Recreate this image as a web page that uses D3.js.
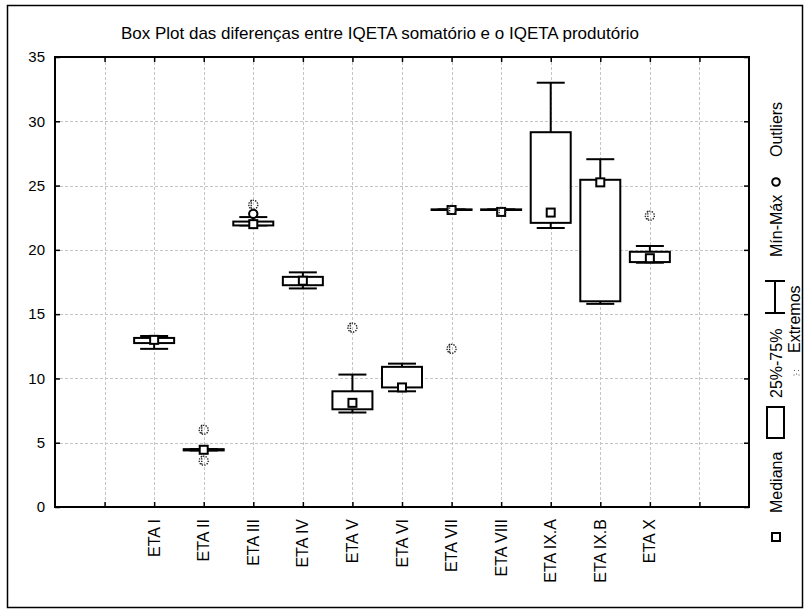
<!DOCTYPE html>
<html>
<head>
<meta charset="utf-8">
<script src="https://cdn.jsdelivr.net/npm/d3@7"></script>
<style>
  html, body { margin: 0; padding: 0; background: #fff; }
  svg { display: block; font-family: "Liberation Sans", Arial, sans-serif; }
</style>
</head>
<body>
<script>
// Box plot data per ETA (differences between summed and multiplied IQETA)
const categories = ["ETA I", "ETA II", "ETA III", "ETA IV", "ETA V", "ETA VI",
                    "ETA VII", "ETA VIII", "ETA IX.A", "ETA IX.B", "ETA X"];
const medians = [13.0, 4.45, 22.0, 17.6, 8.1, 9.3, 23.1, 22.95, 22.9, 25.25, 19.35];
const q1      = [12.75, 4.4, 21.9, 17.25, 7.6, 9.3, 23.1, 23.1, 22.1, 16.0, 19.05];
const q3      = [13.15, 4.5, 22.2, 17.9, 9.0, 10.9, 23.15, 23.15, 29.15, 25.45, 19.85];
const mins    = [12.3, 4.4, 21.9, 17.0, 7.35, 9.0, 23.1, 23.1, 21.7, 15.8, 19.0];
const maxs    = [13.3, 4.5, 22.55, 18.25, 10.3, 11.15, 23.15, 23.15, 33.0, 27.05, 20.3];
const outliers = [[], [], [22.8], [], [], [], [], [], [], [], []];
const extremes = [[], [6.0, 3.6], [23.5], [], [13.95], [], [23.1, 12.3], [22.95], [], [], [22.65]];
const yTicks = [0, 5, 10, 15, 20, 25, 30, 35];
const title = "Box Plot das diferenças entre IQETA somatório e o IQETA produtório";
const legendItems = ["Mediana", "25%-75%", "Mín-Máx", "Outliers", "Extremos"];

const W = 809, H = 614;
const svg = d3.select("body").append("svg").attr("width", W).attr("height", H);

// outer frame
svg.append("rect").attr("x", 7.5).attr("y", 5.5).attr("width", 795).attr("height", 602)
  .attr("fill", "none").attr("stroke", "#000").attr("stroke-width", 1.5);

// slots: categories sit at positions 2..12 of a 0..14 axis
const x = d3.scaleLinear().domain([0, 14]).range([55, 749]);
const y = d3.scaleLinear().domain([0, 35]).range([507, 57]);
const slotTicks = d3.range(1, 14);

// grid
const grid = svg.append("g").attr("stroke", "#c4c4c4").attr("stroke-width", 1)
  .attr("stroke-dasharray", "3,2");
grid.selectAll("line.v").data(slotTicks).join("line").attr("class", "v")
  .attr("x1", d => Math.round(x(d)) + 0.5).attr("x2", d => Math.round(x(d)) + 0.5)
  .attr("y1", y(35)).attr("y2", y(0));
grid.selectAll("line.h").data(yTicks.slice(1, -1)).join("line").attr("class", "h")
  .attr("x1", x(0)).attr("x2", x(14))
  .attr("y1", d => Math.round(y(d)) + 0.5).attr("y2", d => Math.round(y(d)) + 0.5);

// axes with inward ticks on all four sides
const axFont = "15px";
const axLeft = svg.append("g").attr("transform", `translate(${x(0)},0)`)
  .call(d3.axisLeft(y).tickValues(yTicks).tickSizeInner(-5).tickSizeOuter(0).tickPadding(10));
const axRight = svg.append("g").attr("transform", `translate(${x(14)},0)`)
  .call(d3.axisRight(y).tickValues(yTicks).tickSizeInner(-5).tickSizeOuter(0).tickFormat(""));
const axBottom = svg.append("g").attr("transform", `translate(0,${y(0)})`)
  .call(d3.axisBottom(x).tickValues(slotTicks).tickSizeInner(-5).tickSizeOuter(0).tickFormat(""));
const axTop = svg.append("g").attr("transform", `translate(0,${y(35)})`)
  .call(d3.axisTop(x).tickValues(slotTicks).tickSizeInner(-5).tickSizeOuter(0).tickFormat(""));
[axLeft, axRight, axBottom, axTop].forEach(g => {
  g.select(".domain").remove();
  g.selectAll(".tick line").attr("stroke", "#000").attr("stroke-width", 1.5);
});
axLeft.selectAll(".tick text").attr("font-size", axFont).attr("fill", "#000")
  .attr("font-family", "Liberation Sans, Arial, sans-serif");

// plot frame
svg.append("rect").attr("x", x(0)).attr("y", y(35))
  .attr("width", x(14) - x(0)).attr("height", y(0) - y(35))
  .attr("fill", "none").attr("stroke", "#000").attr("stroke-width", 2);

// category labels (rotated)
const pos = i => x(i + 2);
svg.append("g").selectAll("text").data(categories).join("text")
  .attr("transform", (d, i) => `translate(${pos(i) + 5.5},${y(0) + 12}) rotate(-90)`)
  .attr("text-anchor", "end").attr("font-size", "16px").attr("fill", "#000")
  .text(d => d);

// title
svg.append("text").attr("x", 380).attr("y", 39).attr("text-anchor", "middle")
  .attr("font-size", "17px").attr("fill", "#000").text(title);

// boxes
const boxW = 40, capW = 28, medS = 8;
const boxes = svg.append("g").attr("stroke", "#000").attr("stroke-width", 2).attr("fill", "#fff");
categories.forEach((c, i) => {
  const cx = pos(i);
  const g = boxes.append("g");
  g.append("line").attr("x1", cx).attr("x2", cx).attr("y1", y(maxs[i])).attr("y2", y(q3[i]));
  g.append("line").attr("x1", cx).attr("x2", cx).attr("y1", y(q1[i])).attr("y2", y(mins[i]));
  g.append("line").attr("x1", cx - capW / 2).attr("x2", cx + capW / 2)
    .attr("y1", y(maxs[i])).attr("y2", y(maxs[i]));
  g.append("line").attr("x1", cx - capW / 2).attr("x2", cx + capW / 2)
    .attr("y1", y(mins[i])).attr("y2", y(mins[i]));
  g.append("rect").attr("x", cx - boxW / 2).attr("y", y(q3[i]))
    .attr("width", boxW).attr("height", Math.max(0.5, y(q1[i]) - y(q3[i])));
  g.append("rect").attr("x", cx - medS / 2).attr("y", y(medians[i]) - medS / 2)
    .attr("width", medS).attr("height", medS);
});

// outliers: circles
const outG = svg.append("g");
categories.forEach((c, i) => {
  outliers[i].forEach(v => {
    outG.append("circle").attr("cx", pos(i)).attr("cy", y(v)).attr("r", 4.2)
      .attr("fill", "#fff").attr("stroke", "#000").attr("stroke-width", 2);
  });
});

// extremes: dotted marker
function extreme(g, cx, cy, s) {
  const e = g.append("g").attr("fill", "none").attr("stroke", "#222")
    .attr("stroke-width", 1.4).attr("stroke-dasharray", "1.3,1.2");
  e.append("circle").attr("cx", cx).attr("cy", cy).attr("r", 4.5 * s);
  e.append("line").attr("x1", cx - 2 * s).attr("x2", cx - 2 * s)
    .attr("y1", cy - 5 * s).attr("y2", cy + 5 * s);
}
const exG = svg.append("g");
categories.forEach((c, i) => {
  extremes[i].forEach(v => extreme(exG, pos(i), y(v), 1));
});

// legend (rotated, reading upward)
const lg = svg.append("g").attr("font-size", "16px").attr("fill", "#000");
const lx = 776;
// median marker
lg.append("rect").attr("x", lx - 4).attr("y", 533).attr("width", 8).attr("height", 8)
  .attr("fill", "#fff").attr("stroke", "#000").attr("stroke-width", 2);
lg.append("text").attr("transform", `translate(${lx + 6},513) rotate(-90)`).text(legendItems[0]);
// box
lg.append("rect").attr("x", 767).attr("y", 407).attr("width", 17).attr("height", 31)
  .attr("fill", "#fff").attr("stroke", "#000").attr("stroke-width", 2);
lg.append("text").attr("transform", `translate(${lx + 6},398) rotate(-90)`).text(legendItems[1]);
// whisker
const wk = lg.append("g").attr("stroke", "#000").attr("stroke-width", 2);
wk.append("line").attr("x1", 765).attr("x2", 785).attr("y1", 281).attr("y2", 281);
wk.append("line").attr("x1", 765).attr("x2", 785).attr("y1", 313).attr("y2", 313);
wk.append("line").attr("x1", 775).attr("x2", 775).attr("y1", 281).attr("y2", 313);
lg.append("text").attr("transform", `translate(${lx + 6},257) rotate(-90)`).text(legendItems[2]);
// outlier
lg.append("circle").attr("cx", lx).attr("cy", 182).attr("r", 3.8)
  .attr("fill", "#fff").attr("stroke", "#000").attr("stroke-width", 2);
lg.append("text").attr("transform", `translate(${lx + 6},157) rotate(-90)`).text(legendItems[3]);
// extreme
const le = lg.append("g").attr("fill", "#555");
[[-2, -2], [2, -2], [0, 1.5], [-2.5, 2.5], [2.5, 2.5]].forEach(([dx, dy]) =>
  le.append("rect").attr("x", 796 + dx).attr("y", 372 + dy).attr("width", 1).attr("height", 1));
lg.append("text").attr("transform", `translate(${800},353) rotate(-90)`).text(legendItems[4]);
</script>
</body>
</html>
